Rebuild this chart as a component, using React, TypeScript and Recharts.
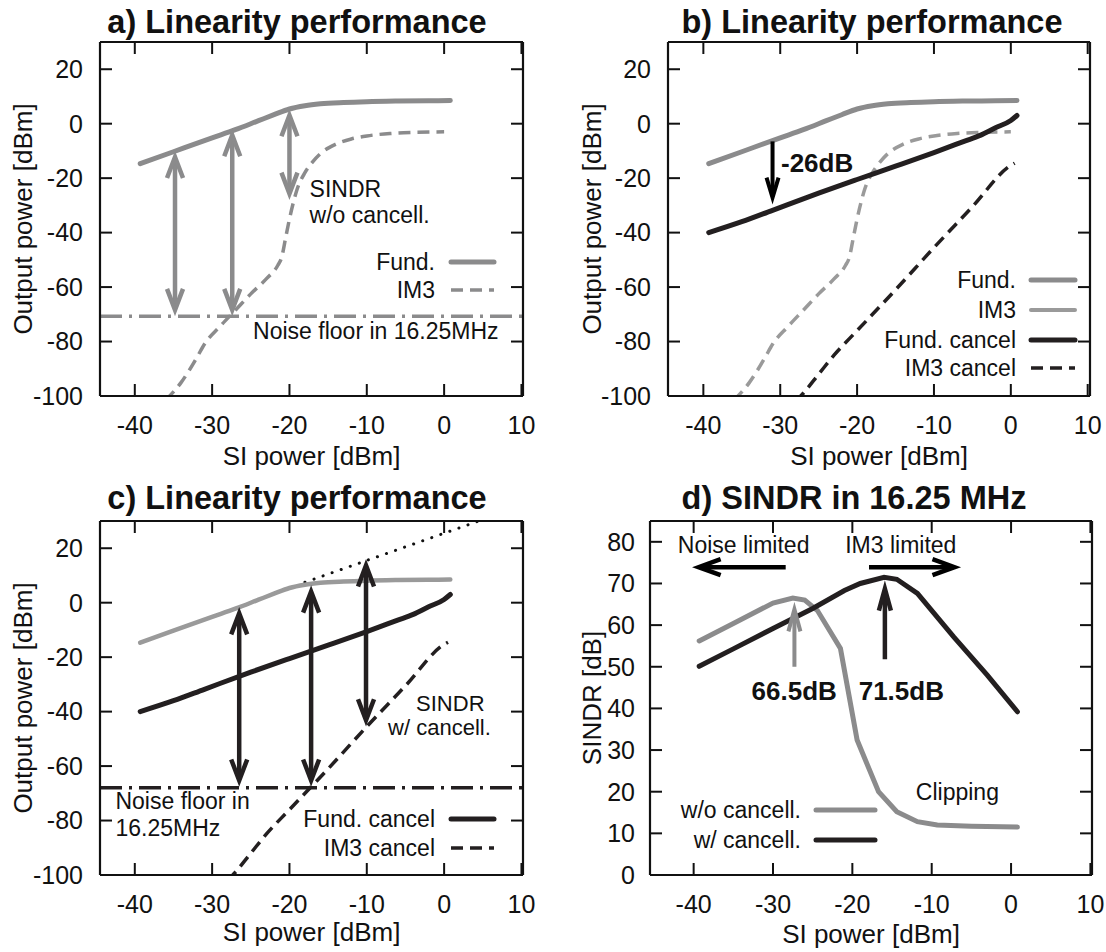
import React from 'react';
import { LineChart, Line, XAxis, YAxis, ReferenceLine, ReferenceDot } from 'recharts';

const FONT = "'Liberation Sans', Arial, Helvetica, sans-serif";
const GRAY = '#8b8b8c';
const LIGHT = '#9a9a9a';
const BLACK = '#231f20';
const INK = '#111';

const siTicks = [-40, -30, -20, -10, 0, 10];
const powerTicks = [-100, -80, -60, -40, -20, 0, 20];
const sindrTicks = [0, 10, 20, 30, 40, 50, 60, 70, 80];

// [SI power dBm, output dBm]
const fund = [
  [-39.3, -14.7], [-35, -10.3], [-30, -5.2], [-27, -2.2], [-24, 1.1], [-22, 3.3], [-20, 5.4],
  [-18, 6.6], [-16, 7.3], [-13, 7.8], [-10, 8.1], [-6, 8.3], [-2, 8.4], [0.8, 8.5],
];
const im3 = [
  [-36, -101.5], [-34, -95], [-32, -86], [-31, -81], [-29, -74.5], [-27, -68.5], [-25, -62.5],
  [-23, -57], [-21.5, -52], [-21, -49], [-20.5, -42], [-20, -35], [-19.5, -29], [-19, -24],
  [-18, -18], [-17, -14], [-16, -11], [-14, -7.5], [-12, -5.6], [-10, -4.5], [-7, -3.6], [-4, -3.2], [0, -3],
];
const fundCancel = [
  [-39.3, -40], [-35, -36], [-31, -31.8], [-25, -25.5], [-20, -20.5], [-15, -15.6], [-10, -10.6],
  [-6, -6.4], [-4, -4.3], [-2, -1.5], [0, 1.2], [0.8, 3],
];
const im3Cancel = [
  [-28, -102], [-27, -99], [-25, -92], [-23, -85], [-20, -76], [-15, -61], [-10, -45.5],
  [-5, -30.5], [0, -15.3], [0.5, -14.5],
];
const fundExtrapolated = [[-18, 7.5], [5, 30.5]];

// [SI power dBm, SINDR dB]
const sindrNoCancel = [
  [-39.3, 56.2], [-35, 60.4], [-30, 65.3], [-27.5, 66.5], [-26, 66], [-24.4, 63.5], [-21.5, 54.4],
  [-19.4, 32.4], [-16.7, 20], [-14.4, 15.2], [-11.8, 12.8], [-9.3, 12], [-5, 11.7], [0.8, 11.5],
];
const sindrCancel = [
  [-39.3, 50.1], [-35, 54.3], [-30, 59.2], [-25, 64], [-21, 68.3], [-19, 70], [-16, 71.5],
  [-14.4, 71], [-11.8, 67.6], [-7.2, 57.1], [-3, 48], [0.8, 39.2],
];

const noiseFloorA = -70.7;
const noiseFloorC = -68;

// [SI power, from, to]
const sindrArrowsA = [[-34.8, -70.7, -9.9], [-27.4, -70.7, -1.9], [-20, 5.4, -28]];
const sindrArrowsC = [[-26.5, -67.6, -1.6], [-17.2, -67.6, 6.4], [-10.1, -45.5, 16]];
const cancelArrowB = [-31, -6.5, -29.7];
const peakArrowsD = [[-27.3, 50, 65.6], [-15.9, 51.8, 70.8]];
// [from, to] along SINDR level
const limitLevel = 73.9;
const noiseLimitedSpan = [-28.4, -40.2];
const im3LimitedSpan = [-17.9, -6.3];

const rows = (pts: number[][]) => pts.map(([si, v]) => ({ si, v }));

// panel placement: page offset, plot box [x, y, w, h] inside the 553x476 chart, axis domains
const PANEL_W = 553;
const PANEL_H = 476;
const Y_AXIS_W = 90;
const X_AXIS_H = 74;
const panels = {
  a: { left: 0, top: 0, plot: [100, 42, 423, 354], xDomain: [-44.5, 10.2], yDomain: [-100, 30], yTicks: powerTicks },
  b: { left: 553, top: 0, plot: [115, 42, 422, 354], xDomain: [-44.6, 10.3], yDomain: [-100, 30], yTicks: powerTicks },
  c: { left: 0, top: 476, plot: [100, 45, 423, 354], xDomain: [-44.5, 10.2], yDomain: [-100, 30], yTicks: powerTicks },
  d: { left: 553, top: 476, plot: [97, 45, 442, 354], xDomain: [-45.5, 10.2], yDomain: [0, 85], yTicks: sindrTicks },
};
type Panel = typeof panels.a;

const marginOf = (p: Panel) => ({
  top: p.plot[1],
  left: p.plot[0] - Y_AXIS_W,
  right: PANEL_W - p.plot[0] - p.plot[2],
  bottom: PANEL_H - p.plot[1] - p.plot[3] - X_AXIS_H,
});

const AX = { stroke: INK, strokeWidth: 2.2 };
const TICK = { fontSize: 25, fill: INK, fontFamily: FONT };
const LABEL = { textAnchor: 'middle', fontSize: 26, fill: INK, fontFamily: FONT } as any;
const TICK_LEN = 12;

// labelled bottom/left axes plus mirrored top/right axes that close the box
const frame = (p: Panel, yLabel: string, yLabelOffset: number, xLabelOffset: number, yTickMargin: number) => [
  <XAxis
    key="xb" dataKey="si" type="number" domain={p.xDomain} allowDataOverflow ticks={siTicks} interval={0}
    height={X_AXIS_H} tickSize={0} tickMargin={20} tick={TICK} tickLine={false} axisLine={AX}
    label={{ value: 'SI power [dBm]', position: 'insideBottom', offset: xLabelOffset, style: LABEL }}
  />,
  <XAxis
    key="xt" xAxisId="top" orientation="top" type="number" domain={p.xDomain} allowDataOverflow ticks={siTicks}
    interval={0} mirror height={20} tickSize={0} tick={false} tickLine={false} axisLine={AX}
  />,
  <YAxis
    key="yl" type="number" domain={p.yDomain} allowDataOverflow ticks={p.yTicks} interval={0} width={Y_AXIS_W}
    tickSize={0} tickMargin={yTickMargin} tick={TICK} tickLine={false} axisLine={AX}
    label={{ value: yLabel, angle: -90, position: 'insideLeft', offset: yLabelOffset, style: LABEL }}
  />,
  <YAxis
    key="yr" yAxisId="right" orientation="right" type="number" domain={p.yDomain} allowDataOverflow ticks={p.yTicks}
    interval={0} mirror width={20} tickSize={0} tick={false} tickLine={false} axisLine={AX}
  />,
];

// gnuplot-style inward tick marks on all four sides of a panel box
const InnerTicks = ({ p }: { p: Panel }) => {
  const [px, py, pw, ph] = p.plot;
  const x0 = p.left + px;
  const y0 = p.top + py;
  const sx = (v: number) => x0 + ((v - p.xDomain[0]) / (p.xDomain[1] - p.xDomain[0])) * pw;
  const sy = (v: number) => y0 + ((p.yDomain[1] - v) / (p.yDomain[1] - p.yDomain[0])) * ph;
  return (
    <g stroke={INK} strokeWidth={2}>
      {siTicks.map((t) => (
        <g key={`x${t}`}>
          <line x1={sx(t)} x2={sx(t)} y1={y0} y2={y0 + TICK_LEN} />
          <line x1={sx(t)} x2={sx(t)} y1={y0 + ph - TICK_LEN} y2={y0 + ph} />
        </g>
      ))}
      {p.yTicks.map((t) => (
        <g key={`y${t}`}>
          <line x1={x0} x2={x0 + TICK_LEN} y1={sy(t)} y2={sy(t)} />
          <line x1={x0 + pw - TICK_LEN} x2={x0 + pw} y1={sy(t)} y2={sy(t)} />
        </g>
      ))}
    </g>
  );
};

const arrowShape = (color: string, both: boolean, w: number, hw = 8, hl = 21) => (p: any) => {
  const { x1, y1, x2, y2 } = p;
  const len = Math.hypot(x2 - x1, y2 - y1) || 1;
  const ux = (x2 - x1) / len;
  const uy = (y2 - y1) / len;
  const inset = (w / 2) / Math.sin(Math.atan(hw / hl));
  const head = (tx: number, ty: number, dx: number, dy: number) => {
    const ax = tx - dx * inset;
    const ay = ty - dy * inset;
    return `${ax - dx * hl - dy * hw},${ay - dy * hl + dx * hw} ${ax},${ay} ${ax - dx * hl + dy * hw},${ay - dy * hl - dx * hw}`;
  };
  const sx = both ? x1 + ux * inset * 1.3 : x1;
  const sy = both ? y1 + uy * inset * 1.3 : y1;
  return (
    <g>
      <line x1={sx} y1={sy} x2={x2 - ux * inset * 1.3} y2={y2 - uy * inset * 1.3} stroke={color} strokeWidth={w} />
      <polyline points={head(x2, y2, ux, uy)} fill="none" stroke={color} strokeWidth={w} strokeLinejoin="miter" />
      {both && <polyline points={head(x1, y1, -ux, -uy)} fill="none" stroke={color} strokeWidth={w} strokeLinejoin="miter" />}
    </g>
  );
};

const note = (text: string, anchor = 'start', bold = false, size = 23) => (p: any) => (
  <text x={p.cx} y={p.cy} textAnchor={anchor} fontSize={size} fontWeight={bold ? 'bold' : 'normal'} fill={INK} fontFamily={FONT}>
    {text}
  </text>
);

const lineProps = { dataKey: 'v', dot: false, activeDot: false, isAnimationActive: false, strokeLinecap: 'round' as const };

const PanelA = () => (
  <LineChart width={PANEL_W} height={PANEL_H} margin={marginOf(panels.a)}>
    {frame(panels.a, 'Output power [dBm]', 13, 5, 17)}
    <ReferenceLine y={noiseFloorA} stroke={GRAY} strokeWidth={3.5} strokeDasharray="22 7 3 7" />
    <Line {...lineProps} data={rows(im3)} type="monotone" stroke={GRAY} strokeWidth={3.5} strokeDasharray="12 7" strokeLinecap="butt" />
    <Line {...lineProps} data={rows(fund)} type="monotone" stroke={GRAY} strokeWidth={5} />
    {sindrArrowsA.map(([si, from, to], i) => (
      <ReferenceLine key={i} segment={[{ x: si, y: from }, { x: si, y: to }]} shape={arrowShape(GRAY, true, 4.5)} />
    ))}
    <ReferenceDot x={-17.4} y={-26.8} shape={note('SINDR')} />
    <ReferenceDot x={-17.4} y={-36.4} shape={note('w/o cancell.')} />
    <ReferenceDot x={-24.7} y={-78.9} shape={note('Noise floor in 16.25MHz')} />
  </LineChart>
);

const PanelB = () => (
  <LineChart width={PANEL_W} height={PANEL_H} margin={marginOf(panels.b)}>
    {frame(panels.b, 'Output power [dBm]', 14, 5, 17)}
    <Line {...lineProps} data={rows(im3)} type="monotone" stroke={LIGHT} strokeWidth={3.5} strokeDasharray="12 7" strokeLinecap="butt" />
    <Line {...lineProps} data={rows(im3Cancel)} type="monotone" stroke={BLACK} strokeWidth={3.5} strokeDasharray="12 7" strokeLinecap="butt" />
    <Line {...lineProps} data={rows(fund)} type="monotone" stroke={GRAY} strokeWidth={5} />
    <Line {...lineProps} data={rows(fundCancel)} type="monotone" stroke={BLACK} strokeWidth={5} />
    <ReferenceLine
      segment={[{ x: cancelArrowB[0], y: cancelArrowB[1] }, { x: cancelArrowB[0], y: cancelArrowB[2] }]}
      shape={arrowShape('#000', false, 4, 6, 20)}
    />
    <ReferenceDot x={-29.9} y={-17.8} shape={note('-26dB', 'start', true, 26)} />
  </LineChart>
);

const PanelC = () => (
  <LineChart width={PANEL_W} height={PANEL_H} margin={marginOf(panels.c)}>
    {frame(panels.c, 'Output power [dBm]', 13, 8, 17)}
    <ReferenceLine y={noiseFloorC} stroke={BLACK} strokeWidth={3.5} strokeDasharray="22 7 3 7" />
    <Line {...lineProps} data={rows(fundExtrapolated)} type="linear" stroke={INK} strokeWidth={3} strokeDasharray="0.1 9.5" />
    <Line {...lineProps} data={rows(im3Cancel)} type="monotone" stroke={BLACK} strokeWidth={3.5} strokeDasharray="12 7" strokeLinecap="butt" />
    <Line {...lineProps} data={rows(fund)} type="monotone" stroke={LIGHT} strokeWidth={4.5} />
    <Line {...lineProps} data={rows(fundCancel)} type="monotone" stroke={BLACK} strokeWidth={5} />
    {sindrArrowsC.map(([si, from, to], i) => (
      <ReferenceLine key={i} segment={[{ x: si, y: from }, { x: si, y: to }]} shape={arrowShape(BLACK, true, 4.5)} />
    ))}
    <ReferenceDot x={0.8} y={-39.8} shape={note('SINDR', 'middle', false, 22)} />
    <ReferenceDot x={-0.6} y={-48.6} shape={note('w/ cancell.', 'middle', false, 22)} />
    <ReferenceDot x={-42.5} y={-75.6} shape={note('Noise floor in')} />
    <ReferenceDot x={-42.5} y={-85.8} shape={note('16.25MHz')} />
  </LineChart>
);

const PanelD = () => (
  <LineChart width={PANEL_W} height={PANEL_H} margin={marginOf(panels.d)}>
    {frame(panels.d, 'SINDR [dB]', 32, 6, 15)}
    <Line {...lineProps} data={rows(sindrNoCancel)} type="linear" stroke={GRAY} strokeWidth={5} />
    <Line {...lineProps} data={rows(sindrCancel)} type="linear" stroke={BLACK} strokeWidth={5} />
    <ReferenceLine
      segment={[{ x: noiseLimitedSpan[0], y: limitLevel }, { x: noiseLimitedSpan[1], y: limitLevel }]}
      shape={arrowShape('#000', false, 4.5, 8, 22)}
    />
    <ReferenceLine
      segment={[{ x: im3LimitedSpan[0], y: limitLevel }, { x: im3LimitedSpan[1], y: limitLevel }]}
      shape={arrowShape('#000', false, 4.5, 8, 22)}
    />
    <ReferenceLine
      segment={[{ x: peakArrowsD[0][0], y: peakArrowsD[0][1] }, { x: peakArrowsD[0][0], y: peakArrowsD[0][2] }]}
      shape={arrowShape(GRAY, false, 4, 6, 22)}
    />
    <ReferenceLine
      segment={[{ x: peakArrowsD[1][0], y: peakArrowsD[1][1] }, { x: peakArrowsD[1][0], y: peakArrowsD[1][2] }]}
      shape={arrowShape(BLACK, false, 4.5, 6, 22)}
    />
    <ReferenceDot x={-42} y={77.4} shape={note('Noise limited')} />
    <ReferenceDot x={-20.9} y={77.4} shape={note('IM3 limited')} />
    <ReferenceDot x={-32.7} y={42} shape={note('66.5dB', 'start', true, 26)} />
    <ReferenceDot x={-19.2} y={42} shape={note('71.5dB', 'start', true, 26)} />
    <ReferenceDot x={-12} y={18} shape={note('Clipping')} />
  </LineChart>
);

const titles = [
  { text: 'a) Linearity performance', x: 297, y: 33 },
  { text: 'b) Linearity performance', x: 872, y: 33 },
  { text: 'c) Linearity performance', x: 297, y: 509 },
  { text: 'd) SINDR in 16.25 MHz', x: 854, y: 509 },
];

const legends = [
  {
    right: 435, x1: 451, x2: 494,
    items: [
      { label: 'Fund.', y: 262, stroke: GRAY, width: 5, dash: undefined },
      { label: 'IM3', y: 290, stroke: GRAY, width: 3.5, dash: '12 7' },
    ],
  },
  {
    right: 1016, x1: 1031, x2: 1075,
    items: [
      { label: 'Fund.', y: 280, stroke: GRAY, width: 5, dash: undefined },
      { label: 'IM3', y: 310, stroke: LIGHT, width: 4, dash: undefined },
      { label: 'Fund. cancel', y: 340, stroke: BLACK, width: 5, dash: undefined },
      { label: 'IM3 cancel', y: 368, stroke: BLACK, width: 3.5, dash: '12 7' },
    ],
  },
  {
    right: 435, x1: 451, x2: 494,
    items: [
      { label: 'Fund. cancel', y: 819, stroke: BLACK, width: 5, dash: undefined },
      { label: 'IM3 cancel', y: 848, stroke: BLACK, width: 3.5, dash: '12 7' },
    ],
  },
  {
    right: 801, x1: 816, x2: 875,
    items: [
      { label: 'w/o cancell.', y: 810, stroke: GRAY, width: 5, dash: undefined },
      { label: 'w/ cancell.', y: 840, stroke: BLACK, width: 5, dash: undefined },
    ],
  },
];

export default function App() {
  return (
    <div style={{ position: 'absolute', left: 0, top: 0, width: 1106, height: 952, background: '#fff' }}>
      <div style={{ position: 'absolute', left: panels.a.left, top: panels.a.top }}><PanelA /></div>
      <div style={{ position: 'absolute', left: panels.b.left, top: panels.b.top }}><PanelB /></div>
      <div style={{ position: 'absolute', left: panels.c.left, top: panels.c.top }}><PanelC /></div>
      <div style={{ position: 'absolute', left: panels.d.left, top: panels.d.top }}><PanelD /></div>
      <svg width={1106} height={952} style={{ position: 'absolute', left: 0, top: 0, pointerEvents: 'none' }}>
        {Object.entries(panels).map(([k, p]) => <InnerTicks key={k} p={p} />)}
        {titles.map((t) => (
          <text key={t.text} x={t.x} y={t.y} textAnchor="middle" fontSize={32.5} fontWeight="bold" fill={INK} fontFamily={FONT}>
            {t.text}
          </text>
        ))}
        {legends.map((lg, i) => (
          <g key={i}>
            {lg.items.map((it) => (
              <g key={it.label}>
                <text x={lg.right} y={it.y + 8} textAnchor="end" fontSize={23} fill={INK} fontFamily={FONT}>{it.label}</text>
                <line x1={lg.x1} x2={lg.x2} y1={it.y} y2={it.y} stroke={it.stroke} strokeWidth={it.width}
                  strokeDasharray={it.dash} strokeLinecap={it.dash ? 'butt' : 'round'} />
              </g>
            ))}
          </g>
        ))}
      </svg>
    </div>
  );
}
